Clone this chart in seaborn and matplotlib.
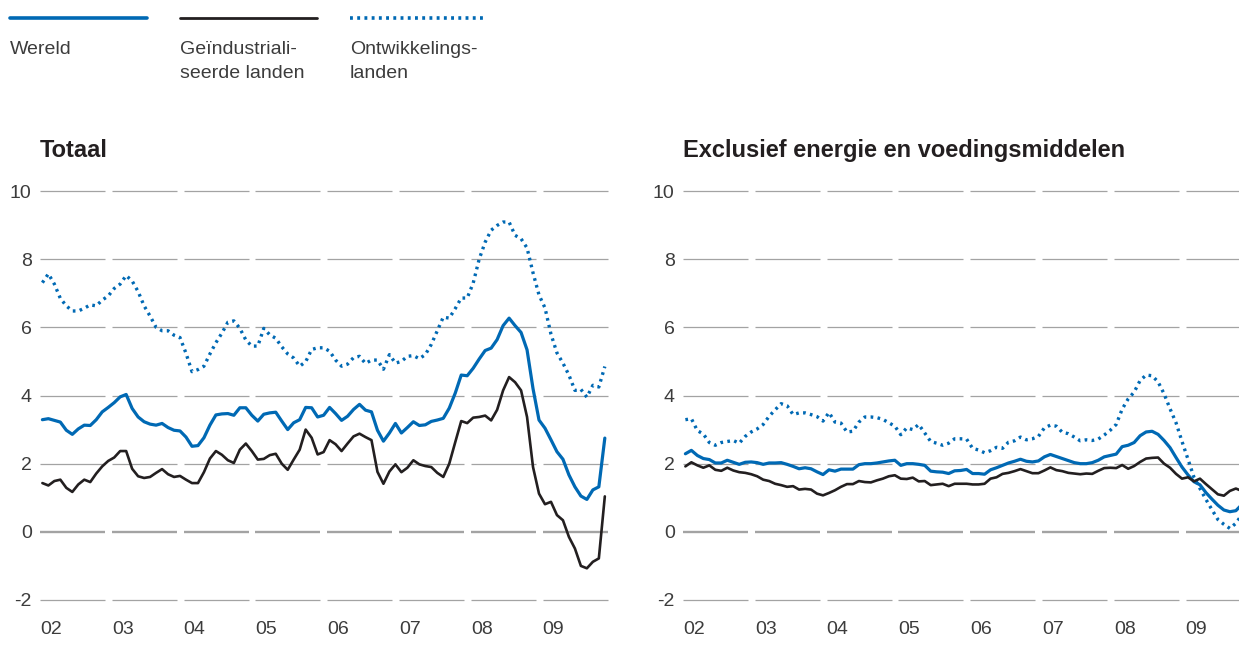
import numpy as np
import matplotlib
matplotlib.use("Agg")
import matplotlib.pyplot as plt
from matplotlib.lines import Line2D
import seaborn as sns

# maandcijfers, januari 2002 t/m november 2009 (jaar-op-jaar, %)
years = list(range(2002, 2010))
year_labels = ["02", "03", "04", "05", "06", "07", "08", "09"]
y_ticks = [-2, 0, 2, 4, 6, 8, 10]
y_tick_labels = ["-2", "0", "2", "4", "6", "8", "10"]

legend_labels = ["Wereld", "Geïndustriali-\nseerde landen", "Ontwikkelings-\nlanden"]
panel_titles = ["Totaal", "Exclusief energie en voedingsmiddelen"]

totaal_wereld = [
    3.29, 3.32, 3.27, 3.22, 2.98, 2.86, 3.02, 3.13, 3.12, 3.29, 3.52, 3.65,
    3.79, 3.96, 4.03, 3.62, 3.37, 3.23, 3.16, 3.13, 3.18, 3.06, 2.98, 2.96,
    2.78, 2.51, 2.53, 2.76, 3.13, 3.43, 3.46, 3.47, 3.42, 3.64, 3.64, 3.42,
    3.25, 3.45, 3.49, 3.51, 3.25, 3.00, 3.20, 3.29, 3.65, 3.64, 3.37, 3.42,
    3.65, 3.47, 3.27, 3.39, 3.59, 3.74, 3.57, 3.52, 2.98, 2.66, 2.90, 3.18,
    2.90, 3.06, 3.23, 3.12, 3.14, 3.24, 3.28, 3.33, 3.63, 4.07, 4.60, 4.58,
    4.80, 5.07, 5.32, 5.39, 5.64, 6.05, 6.27, 6.05, 5.85, 5.34, 4.20, 3.28,
    3.04, 2.70, 2.35, 2.13, 1.67, 1.32, 1.05, 0.95, 1.23, 1.32, 2.75,
]
totaal_geind = [
    1.43, 1.36, 1.49, 1.53, 1.29, 1.17, 1.39, 1.53, 1.46, 1.71, 1.92, 2.08,
    2.18, 2.37, 2.37, 1.85, 1.63, 1.58, 1.61, 1.73, 1.84, 1.69, 1.61, 1.64,
    1.53, 1.43, 1.43, 1.75, 2.15, 2.37, 2.26, 2.10, 2.02, 2.41, 2.59, 2.37,
    2.12, 2.14, 2.25, 2.29, 2.00, 1.82, 2.12, 2.41, 3.00, 2.76, 2.27, 2.34,
    2.69, 2.57, 2.37, 2.59, 2.80, 2.88, 2.78, 2.69, 1.76, 1.41, 1.77, 1.98,
    1.75, 1.88, 2.10, 1.98, 1.93, 1.90, 1.73, 1.61, 2.00, 2.63, 3.25, 3.19,
    3.35, 3.37, 3.41, 3.27, 3.58, 4.15, 4.54, 4.39, 4.15, 3.37, 1.90, 1.12,
    0.81, 0.88, 0.49, 0.34, -0.15, -0.49, -1.00, -1.07, -0.88, -0.78, 1.04,
]
totaal_ontw = [
    7.31, 7.57, 7.27, 6.85, 6.63, 6.48, 6.48, 6.56, 6.66, 6.63, 6.80, 6.92,
    7.14, 7.27, 7.52, 7.36, 7.05, 6.63, 6.33, 6.00, 5.90, 5.90, 5.77, 5.70,
    5.24, 4.70, 4.76, 4.86, 5.22, 5.55, 5.83, 6.15, 6.19, 5.97, 5.63, 5.45,
    5.45, 5.97, 5.78, 5.68, 5.43, 5.22, 5.10, 4.86, 4.99, 5.35, 5.40, 5.40,
    5.30, 5.04, 4.86, 4.92, 5.11, 5.15, 4.94, 5.04, 5.04, 4.77, 5.20, 4.95,
    5.00, 5.15, 5.17, 5.08, 5.20, 5.50, 5.90, 6.30, 6.27, 6.55, 6.86, 6.86,
    7.30, 8.00, 8.50, 8.85, 8.99, 9.09, 9.09, 8.70, 8.60, 8.33, 7.60, 6.95,
    6.57, 5.80, 5.25, 4.95, 4.60, 4.15, 4.18, 3.95, 4.30, 4.25, 4.85,
]

kern_wereld = [
    2.29, 2.39, 2.24, 2.15, 2.12, 2.02, 2.02, 2.10, 2.04, 1.98, 2.04, 2.05,
    2.03, 1.98, 2.02, 2.02, 2.03, 1.98, 1.92, 1.85, 1.88, 1.85, 1.76, 1.68,
    1.82, 1.78, 1.84, 1.84, 1.84, 1.97, 2.00, 2.00, 2.02, 2.05, 2.08, 2.10,
    1.95, 2.00, 2.00, 1.98, 1.95, 1.78, 1.76, 1.75, 1.71, 1.79, 1.80, 1.83,
    1.71, 1.71, 1.69, 1.82, 1.88, 1.95, 2.02, 2.07, 2.13, 2.07, 2.05, 2.08,
    2.20, 2.27, 2.21, 2.15, 2.09, 2.03, 2.00, 2.00, 2.03, 2.10, 2.20, 2.24,
    2.28, 2.50, 2.54, 2.62, 2.82, 2.93, 2.95, 2.86, 2.68, 2.47, 2.18, 1.90,
    1.67, 1.47, 1.38, 1.15, 0.96, 0.78, 0.64, 0.59, 0.62, 0.80, 1.00,
]
kern_geind = [
    1.92, 2.04, 1.95, 1.88, 1.95, 1.82, 1.79, 1.88, 1.80, 1.75, 1.73, 1.69,
    1.63, 1.53, 1.49, 1.41, 1.37, 1.32, 1.34, 1.24, 1.26, 1.24, 1.12, 1.07,
    1.14, 1.22, 1.32, 1.40, 1.40, 1.49, 1.46, 1.45, 1.51, 1.56, 1.63, 1.66,
    1.56, 1.55, 1.59, 1.48, 1.49, 1.37, 1.39, 1.41, 1.34, 1.41, 1.41, 1.41,
    1.39, 1.39, 1.41, 1.56, 1.60, 1.70, 1.73, 1.78, 1.84, 1.78, 1.72, 1.72,
    1.80, 1.89, 1.81, 1.78, 1.73, 1.71, 1.69, 1.71, 1.70, 1.79, 1.87, 1.88,
    1.87, 1.96, 1.85, 1.93, 2.05, 2.15, 2.17, 2.18, 2.00, 1.88, 1.70, 1.56,
    1.60, 1.48, 1.56, 1.40, 1.25, 1.10, 1.06, 1.20, 1.27, 1.20, 1.20,
]
kern_ontw = [
    3.29, 3.32, 2.97, 2.87, 2.62, 2.54, 2.62, 2.65, 2.68, 2.60, 2.80, 2.93,
    3.02, 3.15, 3.39, 3.58, 3.76, 3.70, 3.44, 3.49, 3.49, 3.44, 3.38, 3.25,
    3.50, 3.22, 3.19, 2.93, 2.95, 3.22, 3.37, 3.37, 3.35, 3.30, 3.20, 3.10,
    2.85, 3.05, 3.00, 3.15, 2.90, 2.65, 2.60, 2.54, 2.60, 2.73, 2.73, 2.72,
    2.45, 2.40, 2.32, 2.38, 2.48, 2.45, 2.63, 2.67, 2.78, 2.70, 2.73, 2.80,
    3.05, 3.13, 3.10, 2.92, 2.88, 2.78, 2.67, 2.70, 2.68, 2.72, 2.84, 2.98,
    3.15, 3.60, 3.90, 4.10, 4.44, 4.60, 4.58, 4.40, 4.05, 3.61, 3.20, 2.65,
    2.13, 1.60, 1.27, 0.95, 0.65, 0.36, 0.22, 0.10, 0.25, 0.50, 0.80,
]

BLUE = "#0069b4"
BLACK = "#231f20"
GRID = "#a3a3a3"
TEXT = "#3c3c3c"

sns.set_theme(style="white")
plt.rcParams["font.family"] = ["Liberation Sans", "DejaVu Sans"]

W, H = 1239, 658
fig = plt.figure(figsize=(W / 100, H / 100), dpi=100)


def px_axes(left, top, right, bottom):
    return fig.add_axes([left / W, 1 - bottom / H, (right - left) / W, (bottom - top) / H])


x = 2002 + (np.arange(len(totaal_wereld)) + 0.4) / 12

panels = [
    (px_axes(40, 180.8, 614.4, 610.2), (totaal_wereld, totaal_geind, totaal_ontw)),
    (px_axes(683, 180.8, 1257.4, 610.2), (kern_wereld, kern_geind, kern_ontw)),
]

for ax, (wereld, geind, ontw) in panels:
    # horizontale rasterlijnen, per jaar onderbroken
    for yv in y_ticks:
        for yr in years:
            ax.hlines(yv, yr, yr + 0.905, color=GRID, lw=1.7 if yv == 0 else 0.9, zorder=1)
    sns.lineplot(x=x, y=ontw, ax=ax, color=BLUE, lw=2.4, linestyle=(0, (0.8, 1.3)), zorder=3)
    sns.lineplot(x=x, y=wereld, ax=ax, color=BLUE, lw=2.3, zorder=4)
    sns.lineplot(x=x, y=geind, ax=ax, color=BLACK, lw=1.9, zorder=5)
    ax.set_xlim(2002, 2010)
    ax.set_ylim(-2.3, 10.3)
    ax.set_xticks(years)
    ax.set_xticklabels(year_labels, ha="left")
    ax.set_yticks(y_ticks)
    ax.set_yticklabels(y_tick_labels)
    ax.tick_params(length=0, labelsize=14, colors=TEXT)
    ax.tick_params(axis="x", pad=8)
    ax.tick_params(axis="y", pad=6)
    ax.set_xlabel("")
    ax.set_ylabel("")
    ax.grid(False)
    sns.despine(ax=ax, left=True, bottom=True)

fig.text(40 / W, 1 - 150 / H, panel_titles[0], fontsize=17, fontweight="bold",
         color=BLACK, va="center", ha="left")
fig.text(683 / W, 1 - 150 / H, panel_titles[1], fontsize=17, fontweight="bold",
         color=BLACK, va="center", ha="left")

# legenda: lijn boven de tekst
legend_x = [10, 180, 350]
legend_styles = [
    dict(color=BLUE, lw=2.6),
    dict(color=BLACK, lw=2.0),
    dict(color=BLUE, lw=2.6, linestyle=(0, (0.8, 1.2))),
]
for lx, label, style in zip(legend_x, legend_labels, legend_styles):
    fig.add_artist(Line2D([lx / W, (lx + 137) / W], [1 - 18 / H] * 2,
                          transform=fig.transFigure, **style))
    fig.text(lx / W, 1 - 41 / H, label, fontsize=14, color=TEXT,
             va="top", ha="left", linespacing=1.55)

fig.savefig("out.png", dpi=100)
